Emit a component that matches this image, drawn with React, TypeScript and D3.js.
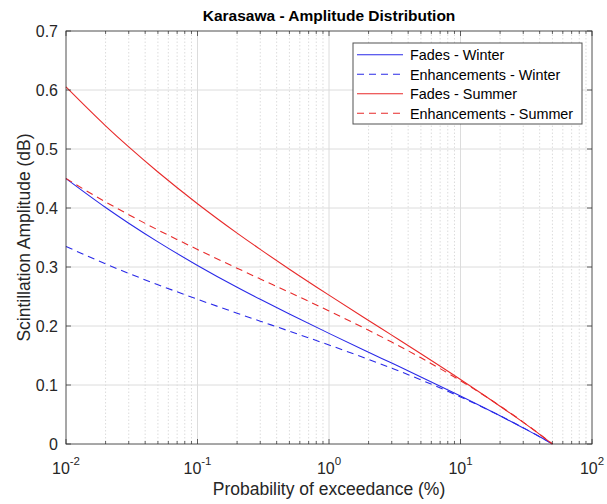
import React from "react";
import * as d3 from "d3";

const probabilities = [0.01, 0.02, 0.03, 0.05, 0.1, 0.2, 0.3, 0.5, 1, 2, 3, 5, 10, 20, 30, 40, 50];
const fadesWinter = [0.4498, 0.4008, 0.3742, 0.3426, 0.3027, 0.2657, 0.2452, 0.2202, 0.1875, 0.1556, 0.1371, 0.1137, 0.0813, 0.0477, 0.0272, 0.0122, 0.0];
const enhWinter = [0.3348, 0.3053, 0.2892, 0.27, 0.2453, 0.2217, 0.2082, 0.1912, 0.1678, 0.1434, 0.1285, 0.1087, 0.0798, 0.0479, 0.0276, 0.0124, 0.0];
const fadesSummer = [0.6052, 0.5393, 0.5035, 0.461, 0.4073, 0.3575, 0.3299, 0.2963, 0.2523, 0.2094, 0.1845, 0.153, 0.1094, 0.0641, 0.0366, 0.0164, 0.0];
const enhSummer = [0.45, 0.4103, 0.3887, 0.3628, 0.3297, 0.298, 0.2798, 0.257, 0.2255, 0.1928, 0.1727, 0.1461, 0.1073, 0.0644, 0.0371, 0.0166, 0.0];

const seriesNames = ["Fades - Winter", "Enhancements - Winter", "Fades - Summer", "Enhancements - Summer"];
const seriesColors = ["#2a2ae8", "#2a2ae8", "#e82a2a", "#e82a2a"];
const seriesDashed = [false, true, false, true];
const seriesValues = [fadesWinter, enhWinter, fadesSummer, enhSummer];

const xDecades = [-2, -1, 0, 1, 2];
const yTicks = [0, 0.1, 0.2, 0.3, 0.4, 0.5, 0.6, 0.7];

const W = 607, H = 504;
const L = 66, R = 592, T = 31, B = 444;
const FONT = "'Liberation Sans', Arial, Helvetica, sans-serif";

export default function App() {
  const x = d3.scaleLog().domain([0.01, 100]).range([L, R]);
  const y = d3.scaleLinear().domain([0, 0.7]).range([B, T]);
  const minor: number[] = [];
  for (let d = -2; d < 2; d++) for (let k = 2; k <= 9; k++) minor.push(k * Math.pow(10, d));
  const line = d3
    .line<[number, number]>()
    .x((d) => x(d[0]))
    .y((d) => y(d[1]))
    .curve(d3.curveMonotoneX);
  const axisColor = "#262626";
  const gridColor = "#dcdcdc";
  return (
    <svg width={W} height={H} style={{ position: "absolute", left: 0, top: 0, background: "#fff" }} fontFamily={FONT}>
      <rect x={0} y={0} width={W} height={H} fill="#fff" />
      {/* grid */}
      {minor.map((m, i) => (
        <line key={"mg" + i} x1={x(m)} x2={x(m)} y1={T} y2={B} stroke={gridColor} strokeDasharray="1.5,2" strokeWidth={1} />
      ))}
      {xDecades.map((d) => (
        <line key={"xg" + d} x1={x(Math.pow(10, d))} x2={x(Math.pow(10, d))} y1={T} y2={B} stroke={gridColor} strokeWidth={1} />
      ))}
      {yTicks.map((t) => (
        <line key={"yg" + t} x1={L} x2={R} y1={y(t)} y2={y(t)} stroke={gridColor} strokeWidth={1} />
      ))}
      {/* series */}
      {seriesValues.map((vals, i) => (
        <path
          key={"s" + i}
          d={line(probabilities.map((p, j) => [p, vals[j]] as [number, number])) || ""}
          fill="none"
          stroke={seriesColors[i]}
          strokeWidth={1.1}
          strokeDasharray={seriesDashed[i] ? "7,5" : undefined}
        />
      ))}
      {/* box */}
      <rect x={L} y={T} width={R - L} height={B - T} fill="none" stroke={axisColor} strokeOpacity={0.7} strokeWidth={1} />
      {/* ticks */}
      {minor.map((m, i) => (
        <g key={"mt" + i} stroke={axisColor} strokeOpacity={0.7}>
          <line x1={x(m)} x2={x(m)} y1={B} y2={B - 3} />
          <line x1={x(m)} x2={x(m)} y1={T} y2={T + 3} />
        </g>
      ))}
      {xDecades.map((d) => (
        <g key={"xt" + d} stroke={axisColor} strokeOpacity={0.7}>
          <line x1={x(Math.pow(10, d))} x2={x(Math.pow(10, d))} y1={B} y2={B - 5} />
          <line x1={x(Math.pow(10, d))} x2={x(Math.pow(10, d))} y1={T} y2={T + 5} />
        </g>
      ))}
      {yTicks.map((t) => (
        <g key={"yt" + t} stroke={axisColor} strokeOpacity={0.7}>
          <line x1={L} x2={L + 5} y1={y(t)} y2={y(t)} />
          <line x1={R} x2={R - 5} y1={y(t)} y2={y(t)} />
        </g>
      ))}
      {/* tick labels */}
      {yTicks.map((t) => (
        <text key={"yl" + t} x={L - 8} y={y(t) + 6} textAnchor="end" fontSize={16} fill={axisColor}>
          {d3.format("")(+t.toFixed(1))}
        </text>
      ))}
      {xDecades.map((d) => (
        <text key={"xl" + d} x={x(Math.pow(10, d))} y={474} textAnchor="middle" fontSize={16} fill={axisColor}>
          10
          <tspan fontSize={11.5} dy={-9}>{String(d)}</tspan>
        </text>
      ))}
      {/* axis labels */}
      <text x={(L + R) / 2} y={495} textAnchor="middle" fontSize={17.5} fill={axisColor}>
        Probability of exceedance (%)
      </text>
      <text transform={`translate(30,${(T + B) / 2}) rotate(-90)`} textAnchor="middle" fontSize={17.5} fill={axisColor}>
        Scintillation Amplitude (dB)
      </text>
      <text x={(L + R) / 2} y={21} textAnchor="middle" fontSize={15.5} fontWeight="bold" fill="#000">
        Karasawa - Amplitude Distribution
      </text>
      {/* legend */}
      <rect x={353} y={43} width={229} height={81} fill="#fff" stroke={axisColor} strokeOpacity={0.8} strokeWidth={1} />
      {seriesNames.map((n, i) => {
        const ly = 54.8 + i * 19.5;
        return (
          <g key={"lg" + i}>
            <line x1={357} x2={403} y1={ly} y2={ly} stroke={seriesColors[i]} strokeWidth={1.1} strokeDasharray={seriesDashed[i] ? "7,5" : undefined} />
            <text x={410} y={ly + 5.2} fontSize={14.4} fill="#000">
              {n}
            </text>
          </g>
        );
      })}
    </svg>
  );
}
